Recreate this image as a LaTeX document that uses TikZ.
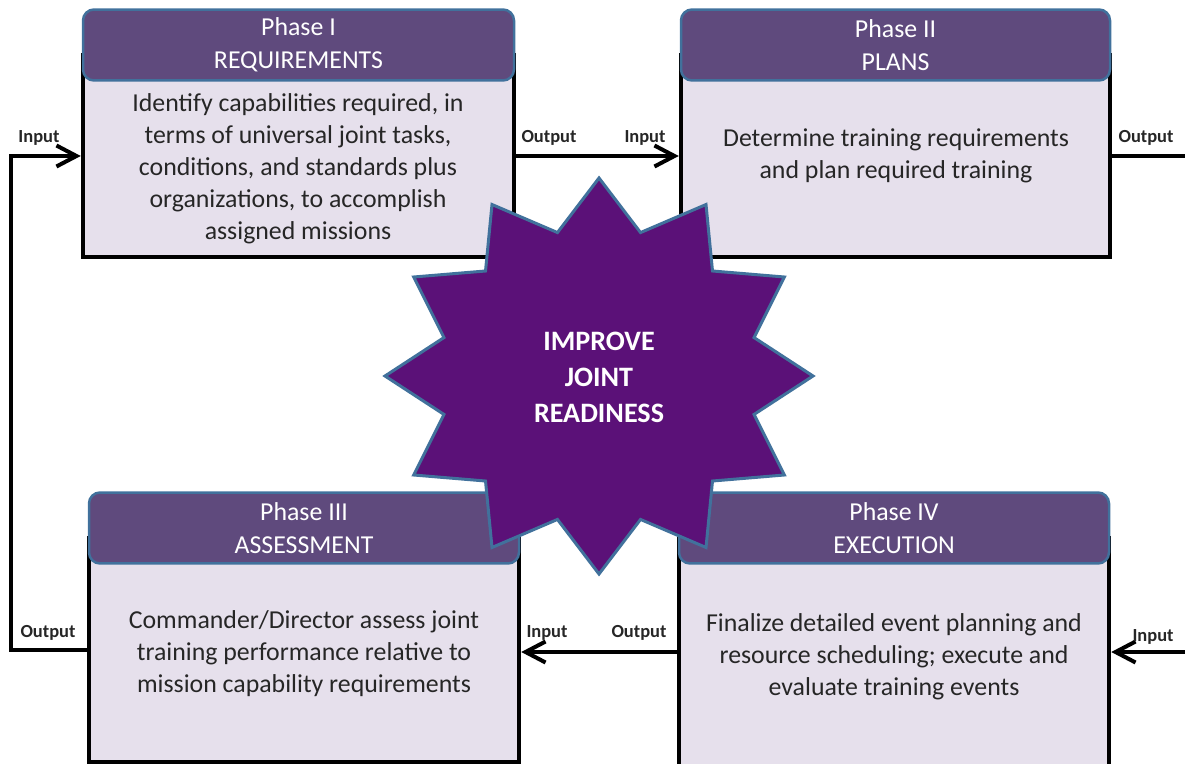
\documentclass[tikz,border=0pt]{standalone}
\usepackage{fontspec}
\setmainfont{Carlito}
\usetikzlibrary{arrows.meta}
\definecolor{headfill}{RGB}{95,74,125}
\definecolor{headline}{RGB}{65,113,156}
\definecolor{bodyfill}{RGB}{230,224,236}
\definecolor{burstfill}{RGB}{91,17,120}
\newcommand{\PX}{0.02cm}
\newcommand{\PhaseBox}[6]{
\node[phasebody, minimum width={(#3-#2)*\PX}, minimum height={(#5-#4-45)*\PX}]
  (#1) at ({(#2+#3)/2},{(#4+45+#5)/2}) {}; % body of the phase
\node[phasehead, minimum width={(#3-#2)*\PX}]
  (#1head) at ({(#2+#3)/2},{#4+35}) {#6}; % header of the phase
}

\begin{document}
\begin{tikzpicture}[x=0.02cm, y=-0.02cm,
>={Straight Barb[length=4mm,width=4.2mm]},
phasebody/.style={draw=black, line width=0.09cm, fill=bodyfill, inner sep=0},
phasehead/.style={draw=headline, line width=0.05cm, fill=headfill, rounded corners=0.22cm,
  minimum height=1.42cm, inner sep=0, text=white, align=center, font=\fontsize{14.7}{18.6}\selectfont},
phasetext/.style={align=center, text=black!85, font=\fontsize{14.7}{18.2}\selectfont},
flow/.style={line width=0.08cm},
port/.style={anchor=base, text=black!85, font=\bfseries\fontsize{10.5}{12}\selectfont},
burst/.style={fill=burstfill, draw=headline, line width=0.06cm},
bursttext/.style={align=center, text=white, font=\bfseries\fontsize{16}{20.5}\selectfont},
]
\useasboundingbox (0,0) rectangle (1185,763); %%%%%% SIZE OF THE PICTURE

%%%%%%%%%%%%%%%%%%%%%%%% PHASES %%%%%%%%%%%%%%%%%%%%%%%%%%%
\PhaseBox{b1}{83}{514}{10}{257}{Phase I\\REQUIREMENTS}
\PhaseBox{b2}{681}{1110}{10}{257}{Phase II\\PLANS}
\PhaseBox{b3}{89}{519}{493}{762}{Phase III\\ASSESSMENT}
\PhaseBox{b4}{679}{1109}{493}{766}{Phase IV\\EXECUTION}

\node[phasetext] (b1text) at (298,169) {Identify capabilities required, in\\terms of universal joint tasks,\\conditions, and standards plus\\organizations, to accomplish\\assigned missions};
\node[phasetext] (b2text) at (896,156) {Determine training requirements\\and plan required training};
\node[phasetext] (b3text) at (304,654) {Commander/Director assess joint\\training performance relative to\\mission capability requirements};
\node[phasetext] (b4text) at (894,657) {Finalize detailed event planning and\\resource scheduling; execute and\\evaluate training events};

%%%%%%%%%%%%%%%%%%%%%%%% FLOWS %%%%%%%%%%%%%%%%%%%%%%%%%%%
\coordinate (edgeR) at (1190,0);
\coordinate (loopL) at (11,400);
\draw[flow, ->] (b1.east) -- (b2.west);
\draw[flow] (b2.east) -- (b2.east -| edgeR);
\draw[flow, ->] (b4.east -| edgeR) -- (b4.east);
\draw[flow, ->] (b4.west) -- (b4.west -| b3.east);
\draw[flow, ->] (b3.west) -| (loopL) |- (b1.west);

\node[port] (in1) at (39,143) {Input};
\node[port] (out1) at (549,143) {Output};
\node[port] (in2) at (645,143) {Input};
\node[port] (out2) at (1146,143) {Output};
\node[port] (in4) at (1153,641) {Input};
\node[port] (out4) at (639,637) {Output};
\node[port] (in3) at (547,637) {Input};
\node[port] (out3) at (48,637) {Output};

%%%%%%%%%%%%%%%%%%%%%%%% STAR %%%%%%%%%%%%%%%%%%%%%%%%%%%
\filldraw[burst, shift={(599,376)}] (0:214 and 198)
  \foreach \k in {1,...,23}{ -- ({\k*15}:{214-53.5*mod(\k,2)} and {198-49.5*mod(\k,2)}) } -- cycle;
\node[bursttext] (core) at (599,377) {IMPROVE\\JOINT\\READINESS};
\end{tikzpicture}
\end{document}
